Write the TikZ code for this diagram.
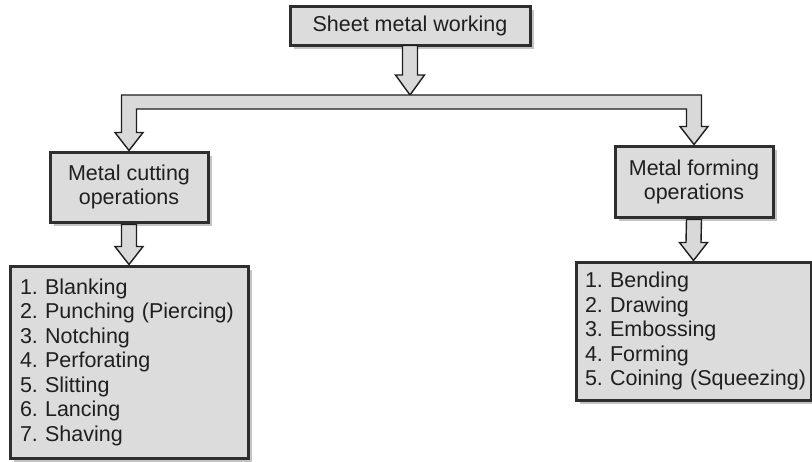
\documentclass[tikz,border=0pt]{standalone}
\usepackage{fontspec}
\setmainfont{Liberation Sans}
\usetikzlibrary{calc,shadows}
\definecolor{boxline}{HTML}{2E2E2E}
\definecolor{boxfill}{HTML}{DCDCDC}
\definecolor{shadowgray}{HTML}{C4C4C4}
\definecolor{arrowfill}{HTML}{D9D9D9}
\definecolor{arrowline}{HTML}{1E1E1E}
\tikzset{
  box/.style={draw=boxline, line width=3pt, fill=boxfill, inner sep=0pt,
    drop shadow={shadow xshift=4pt, shadow yshift=-4pt, fill=shadowgray, opacity=1},
    font=\frenchspacing\fontsize{21.5pt}{24pt}\selectfont, text=black!88, align=center},
  listbox/.style={box, align=left, font=\frenchspacing\fontsize{21.5pt}{24.5pt}\selectfont},
  blockarrow/.style={draw=arrowline, line width=1.4pt, fill=arrowfill, line join=miter}
}
\begin{document}
\frenchspacing
\begin{tikzpicture}[x=1pt,y=-1pt]
\useasboundingbox (0,0) rectangle (812,461);
\node[box, minimum width=240pt, minimum height=39pt] (top) at (410,25.5) {Sheet metal working};
\node[box, minimum width=158pt, minimum height=70pt] (cut) at (129,187) {Metal cutting\\operations};
\node[box, minimum width=158pt, minimum height=71pt] (form) at (694,181.5) {Metal forming\\operations};
\node[listbox, minimum width=238pt, minimum height=192pt, inner xsep=10pt, text width=218pt] (cutlist) at (129,362)
  {1. Blanking\\2. Punching (Piercing)\\3. Notching\\4. Perforating\\5. Slitting\\6. Lancing\\7. Shaving};
\node[listbox, minimum width=235pt, minimum height=138pt, inner xsep=9pt, text width=217pt] (formlist) at (693.5,331)
  {1. Bending\\2. Drawing\\3. Embossing\\4. Forming\\\mbox{5. Coining (Squeezing)}};
\coordinate (bartop) at (410,95);
% arrow from top box down to the bar
\draw[blockarrow] ($(top.south)+(-7.5,-1)$) -- ($(top.south |- bartop)+(-7.5,-20)$)
  -- ($(top.south |- bartop)+(-14.5,-20)$) -- (top.south |- bartop)
  -- ($(top.south |- bartop)+(14.5,-20)$) -- ($(top.south |- bartop)+(7.5,-20)$)
  -- ($(top.south)+(7.5,-1)$) -- cycle;
% U-shaped bar splitting to both branches
\draw[blockarrow] ($(cut.north)+(7.5,-18)$) -- ($(cut.north)+(14,-18)$) -- (cut.north)
  -- ($(cut.north)+(-14,-18)$) -- ($(cut.north)+(-7.5,-18)$) |- (bartop)
  -| ($(form.north)+(7.5,-18)$) -- ($(form.north)+(14,-18)$) -- (form.north)
  -- ($(form.north)+(-14,-18)$) -- ($(form.north)+(-7.5,-18)$) |- ($(bartop)+(0,14)$)
  -| ($(cut.north)+(7.5,-18)$) -- cycle;
% branch arrows to the lists
\draw[blockarrow] ($(cut.south)+(-7.5,1)$) -- ($(cutlist.north)+(-7.5,-18)$)
  -- ($(cutlist.north)+(-14,-18)$) -- (cutlist.north) -- ($(cutlist.north)+(14,-18)$)
  -- ($(cutlist.north)+(7.5,-18)$) -- ($(cut.south)+(7.5,1)$) -- cycle;
\draw[blockarrow] ($(form.south)+(-7.5,1)$) -- ($(formlist.north)+(-7.5,-18)$)
  -- ($(formlist.north)+(-14,-18)$) -- (formlist.north) -- ($(formlist.north)+(14,-18)$)
  -- ($(formlist.north)+(7.5,-18)$) -- ($(form.south)+(7.5,1)$) -- cycle;
\end{tikzpicture}
\end{document}
